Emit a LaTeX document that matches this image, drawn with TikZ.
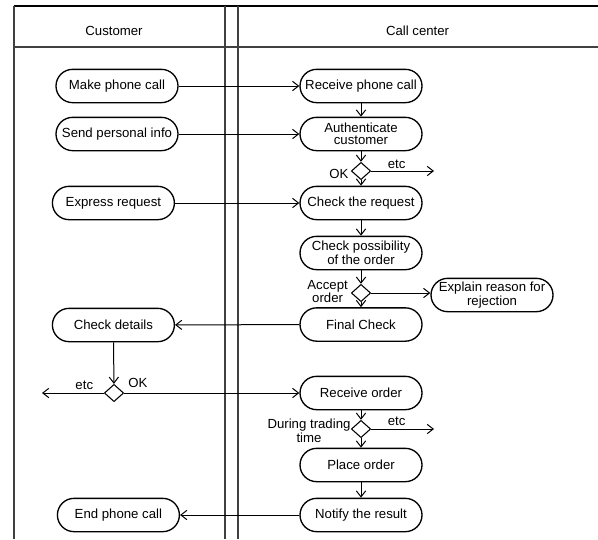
\documentclass[tikz,border=0pt]{standalone}
\usepackage{fontspec}
\setmainfont{Liberation Sans}
\usetikzlibrary{arrows.meta,shapes.geometric}

\tikzset{
  act/.style={draw, line width=1pt, rounded corners=12.5pt, minimum width=91.5pt,
    minimum height=25pt, inner sep=0pt, align=center},
  choice/.style={draw, shape=diamond, line width=0.8pt, minimum width=14.5pt,
    minimum height=13pt, inner sep=0pt},
  flow/.style={line width=0.75pt, -{Straight Barb[length=4.5pt,width=7pt,line width=0.75pt]}},
  lbl/.style={inner sep=0pt, align=center},
  lane/.style={line width=1.3pt, draw=black!75},
}

\begin{document}
\begin{tikzpicture}[x=0.75pt, y=-0.75pt,
  font=\fontsize{9.9}{9}\selectfont]
\useasboundingbox (0,0) rectangle (598,539);

% swimlane frame
\draw[line width=1.4pt] (13.8,6) -- (598,6);
\draw[lane] (13.8,6) -- (13.8,539);
\draw[lane] (13.8,47) -- (598,47);
\draw[lane] (225.3,6) -- (225.3,539);
\draw[lane] (238.3,6) -- (238.3,539);

% lane titles
\node[lbl] (tcust) at (114,31) {Customer};
\node[lbl] (tcc) at (417.6,31) {Call center};

% customer activities
\node[act] (make) at (117,86) {Make phone call};
\node[act] (send) at (117,134) {Send personal info};
\node[act] (expr) at (113.4,203) {Express request};
\node[act] (details) at (113.4,325) {Check details};
\node[act] (endcall) at (118.4,515) {End phone call};

% call center activities
\node[act] (recv) at (361,86) {Receive phone call};
\node[act] (auth) at (361,134) {Authenticate\\customer};
\node[choice] (d1) at (361,171) {};
\node[act] (chkreq) at (361,203) {Check the request};
\node[act] (chkpos) at (361,253) {Check possibility\\of the order};
\node[choice] (d2) at (361,293) {};
\node[act] (expl) at (492,295) {Explain reason for\\rejection};
\node[act] (final) at (361,324.5) {Final Check};
\node[choice] (d3) at (114,393) {};
\node[act] (recvord) at (361,393) {Receive order};
\node[choice] (d4) at (361,429) {};
\node[act] (place) at (361,465) {Place order};
\node[act] (notify) at (361,515) {Notify the result};

% loose ends of the "etc" branches
\coordinate (e1) at (434,171);
\coordinate (e3) at (42,393);
\coordinate (e4) at (434,429);

% guard labels
\node[lbl] (l1etc) at (396.6,164) {etc};
\node[lbl] (l1ok) at (339,174) {OK};
\node[lbl] (l2acc) at (327.6,291.5) {Accept\\order};
\node[lbl] (l3etc) at (84.3,385) {etc};
\node[lbl] (l3ok) at (138,383) {OK};
\node[lbl] (l4etc) at (396.6,421.7) {etc};
\node[lbl] (l4dur) at (309,431) {During trading\\time};

% flows between lanes
\draw[flow] (make) -- (recv);
\draw[flow] (send) -- (auth);
\draw[flow] (expr) -- (chkreq);
\draw[flow] (final) -- (details);
\draw[flow] (d3) -- (recvord);
\draw[flow] (notify) -- (endcall);

% flows within lanes
\draw[flow] (recv) -- (auth);
\draw[flow] (auth) -- (d1);
\draw[flow] (d1) -- (chkreq);
\draw[flow] (d1) -- (e1);
\draw[flow] (chkreq) -- (chkpos);
\draw[flow] (chkpos) -- (d2);
\draw[flow] (d2) -- (final);
\draw[flow] (d2.east) -- (d2.east -| expl.west);
\draw[flow] (details) -- (d3);
\draw[flow] (d3) -- (e3);
\draw[flow] (recvord) -- (d4);
\draw[flow] (d4) -- (place);
\draw[flow] (d4) -- (e4);
\draw[flow] (place) -- (notify);
\end{tikzpicture}
\end{document}
